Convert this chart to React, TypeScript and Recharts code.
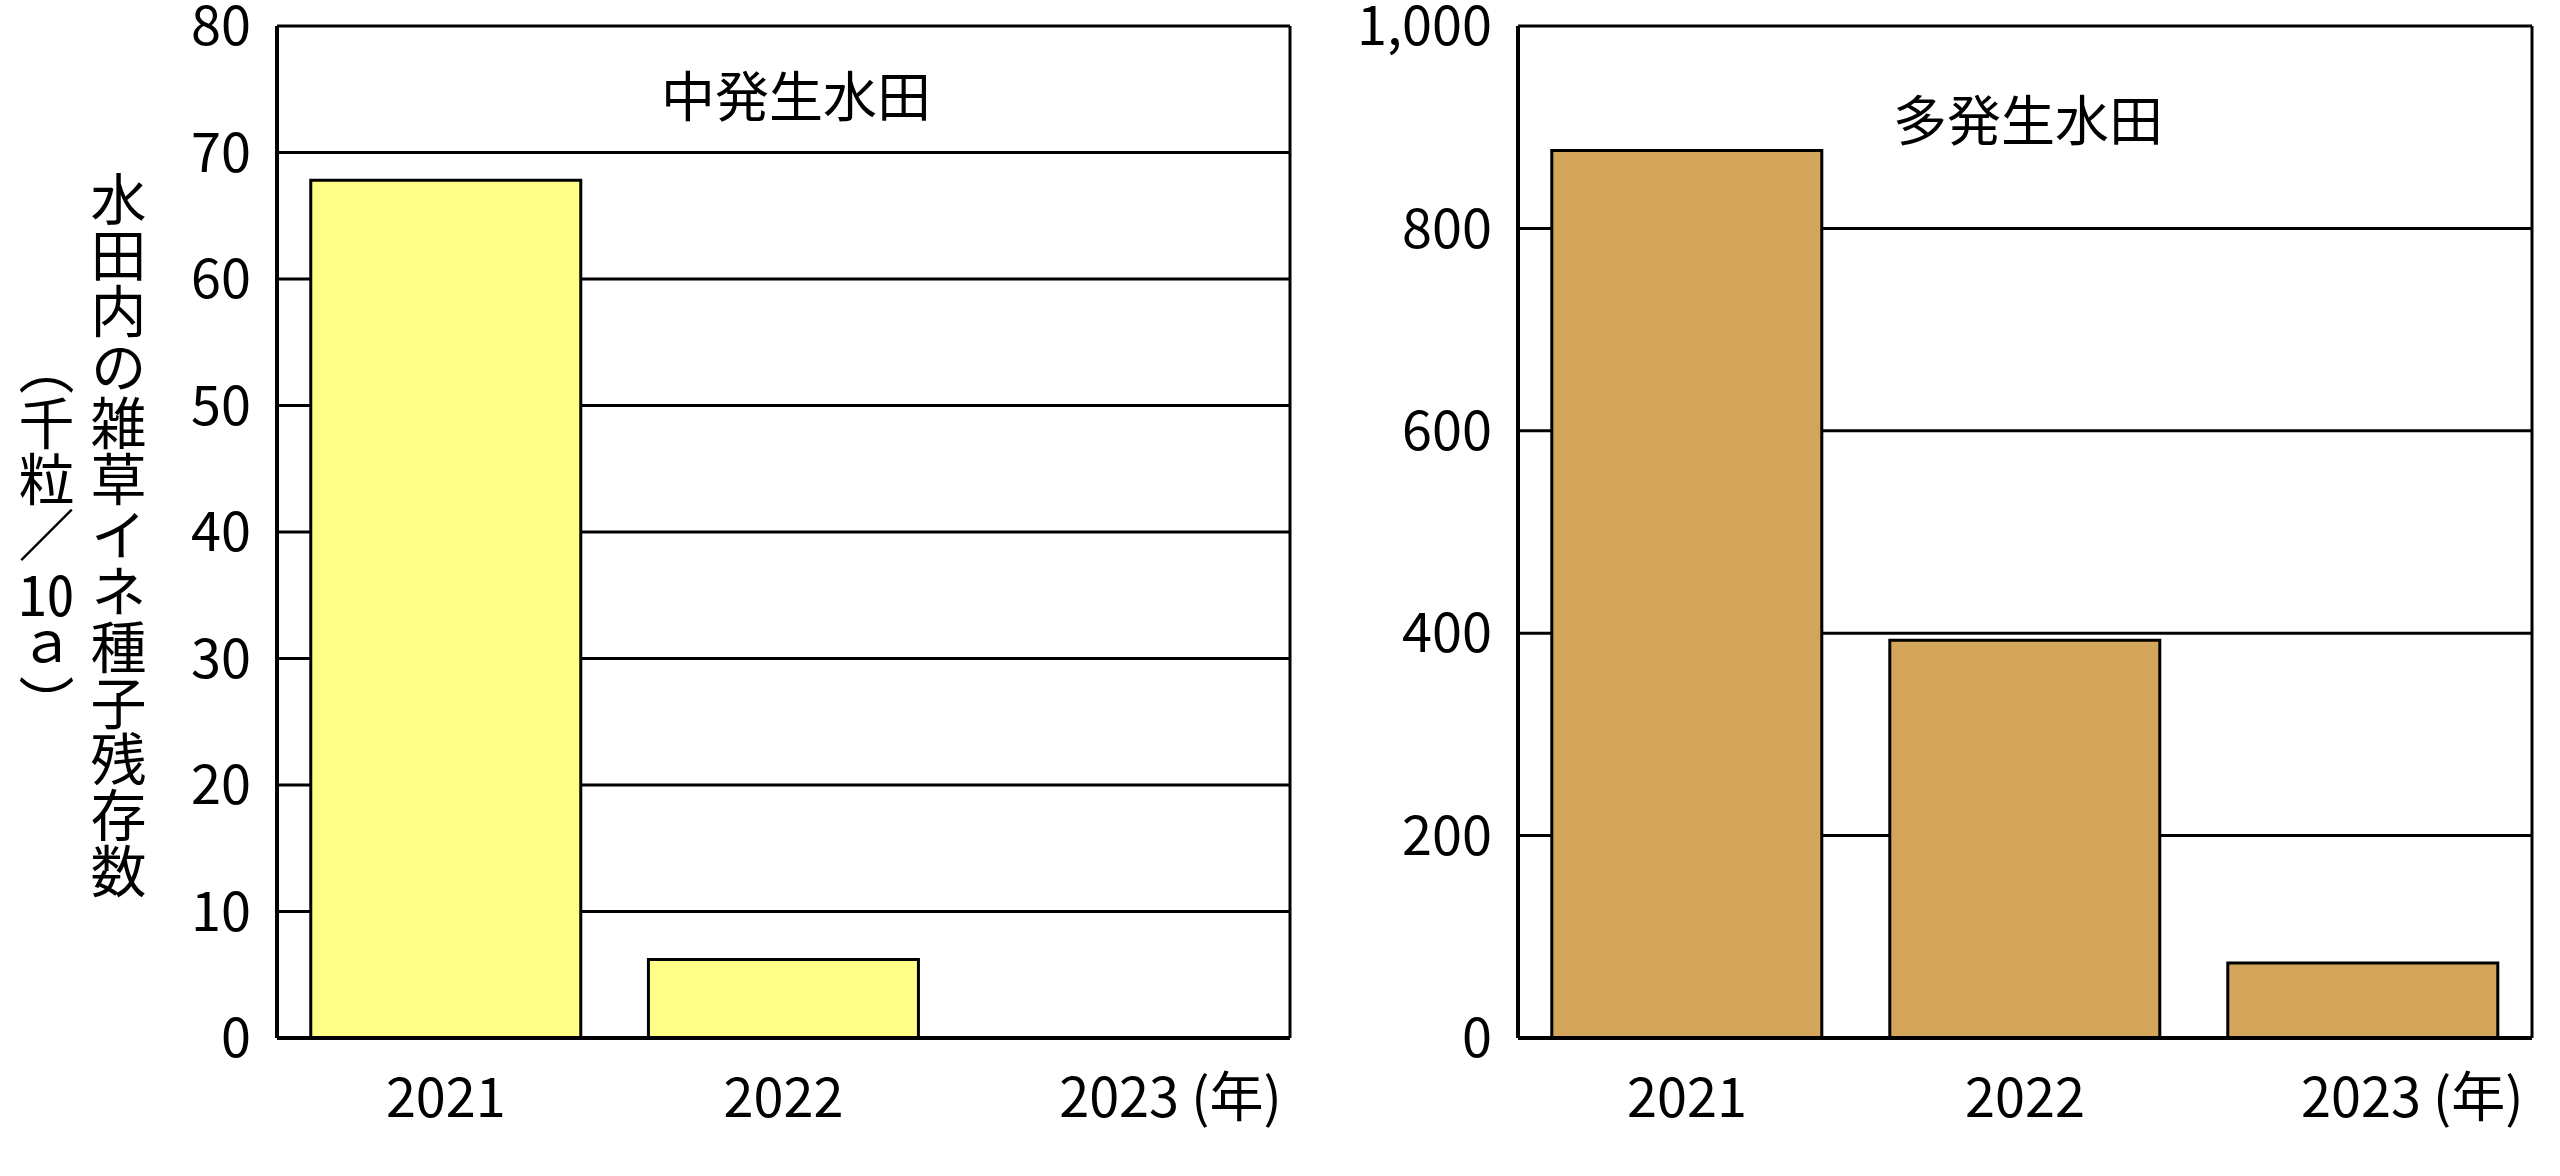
import { BarChart, Bar, XAxis, YAxis, CartesianGrid } from "recharts";

const years = ["2021", "2022", "2023"];
const midSeeds = [67.8, 6.2, 0];
const highSeeds = [877, 393, 74];
const midTicks = [0, 10, 20, 30, 40, 50, 60, 70, 80];
const highTicks = [0, 200, 400, 600, 800, 1000];

const FONT = "'Noto Sans CJK JP', 'Noto Sans', sans-serif";
const lastYear = years[years.length - 1];

const midData = years.map((year, i) => ({ year, seeds: midSeeds[i] }));
const highData = years.map((year, i) => ({ year, seeds: highSeeds[i] }));

function YearTick({ x, y, payload }: any) {
  const isLast = payload.value === lastYear;
  return (
    <text
      x={isLast ? x - 62 : x}
      y={y + 79}
      textAnchor={isLast ? "start" : "middle"}
      fontFamily={FONT}
      fontSize={54}
      fill="#000"
    >
      {isLast ? `${payload.value} (年)` : payload.value}
    </text>
  );
}

const borderX = ({ offset }: any) =>
  offset ? [offset.left, offset.left + offset.width] : [];

function Panel({ data, ticks, max, fill, left, width, axisWidth, format }: any) {
  return (
    <div style={{ position: "absolute", left, top: 0 }}>
      <BarChart
        width={width}
        height={1176}
        data={data}
        margin={{ top: 26, right: 28, bottom: 38, left: 0 }}
        barCategoryGap="10%"
      >
        <CartesianGrid
          stroke="#000"
          strokeWidth={3}
          verticalCoordinatesGenerator={borderX}
        />
        <XAxis
          dataKey="year"
          height={100}
          tickLine={false}
          tickSize={0}
          tickMargin={0}
          axisLine={{ stroke: "#000", strokeWidth: 4 }}
          tick={<YearTick />}
          interval={0}
        />
        <YAxis
          width={axisWidth}
          domain={[0, max]}
          ticks={ticks}
          tickLine={false}
          tickSize={0}
          tickMargin={26}
          axisLine={{ stroke: "#000", strokeWidth: 4 }}
          tickFormatter={format}
          tick={{ fontFamily: FONT, fontSize: 54, fill: "#000" }}
          interval={0}
        />
        <Bar
          dataKey="seeds"
          fill={fill}
          stroke="#000"
          strokeWidth={3}
          isAnimationActive={false}
        />
      </BarChart>
    </div>
  );
}

export default function App() {
  return (
    <div
      style={{
        position: "absolute",
        left: 0,
        top: 0,
        width: 2560,
        height: 1176,
        background: "#fff",
        fontFamily: FONT,
        color: "#000",
      }}
    >
      <Panel
        data={midData}
        ticks={midTicks}
        max={80}
        fill="#FFFF88"
        left={0}
        width={1318}
        axisWidth={277}
        format={(v: number) => `${v}`}
      />
      <Panel
        data={highData}
        ticks={highTicks}
        max={1000}
        fill="#D4A65B"
        left={1320}
        width={1240}
        axisWidth={198}
        format={(v: number) => v.toLocaleString("en-US")}
      />
      <div
        style={{
          position: "absolute",
          left: 796 - 200,
          top: 94 - 40,
          width: 400,
          lineHeight: "80px",
          textAlign: "center",
          fontSize: 54,
        }}
      >
        中発生水田
      </div>
      <div
        style={{
          position: "absolute",
          left: 2028 - 200,
          top: 118 - 40,
          width: 400,
          lineHeight: "80px",
          textAlign: "center",
          fontSize: 54,
        }}
      >
        多発生水田
      </div>
      <div
        style={{
          position: "absolute",
          left: 10,
          top: 171,
          height: 728,
          writingMode: "vertical-rl",
          fontSize: 56,
          lineHeight: "72px",
          textAlign: "center",
        }}
      >
        <div>水田内の雑草イネ種子残存数</div>
        <div>
          （千粒／<span style={{ textCombineUpright: "all" } as any}>10</span>ａ）
        </div>
      </div>
    </div>
  );
}
